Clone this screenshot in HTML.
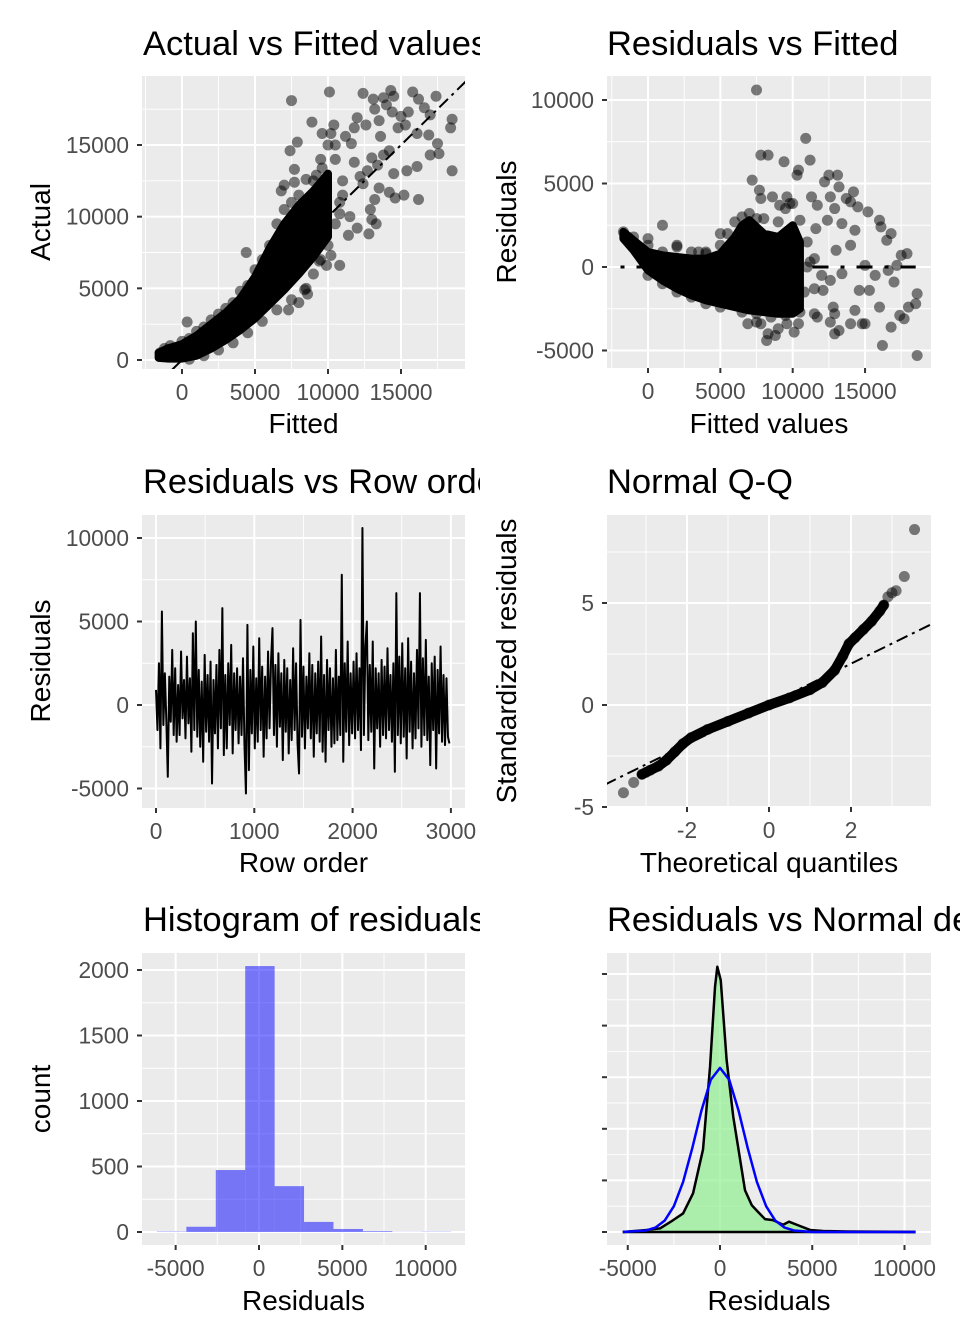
<!DOCTYPE html>
<html><head><meta charset="utf-8">
<style>
html,body{margin:0;padding:0;background:#fff;}
svg{display:block;font-family:"Liberation Sans",Arial,sans-serif;}
</style></head>
<body>
<svg id="chart" width="960" height="1344" viewBox="0 0 960 1344" xmlns="http://www.w3.org/2000/svg">
<defs>
<clipPath id="leftcol"><rect x="0" y="0" width="480" height="1344"/></clipPath>
<clipPath id="c1"><rect x="142" y="76" width="323" height="293"/></clipPath>
<clipPath id="c2"><rect x="607" y="76" width="324" height="292"/></clipPath>
<clipPath id="c3"><rect x="142" y="515" width="323" height="293"/></clipPath>
<clipPath id="c4"><rect x="607" y="515" width="324" height="292"/></clipPath>
<clipPath id="c5"><rect x="142" y="953" width="323" height="292"/></clipPath>
<clipPath id="c6"><rect x="607" y="953" width="324" height="292"/></clipPath>
</defs>
</svg>
<script>
// ---------- DATA ----------
// Panel 1: Actual vs Fitted
const p1BandFitted = [-1600,-1000,0,1000,2000,3000,4000,5000,6000,7000,8000,9000,10000];
const p1BandLow    = [150,100,100,300,800,1400,2100,2900,3900,4900,6000,7200,8600];
const p1BandHigh   = [500,800,1100,1700,2500,3300,4300,5800,7800,9500,10800,11800,13000];
const p1Fitted = [7500,10100,12400,13100,13800,14300,14500,15800,16200,17400,13200,14000,14400,15000,15500,16600,17000,18500,18400,12000,11800,12600,13500,13600,14800,15300,16100,16900,17500,17600,18500,17000,16100,15400,14500,13800,14200,13000,12700,12400,13500,13200,14200,14600,15200,16200,12900,13000,13300,12800,12000,11500,10800,11400,10200,10800,9900,9400,8600,8000,8400,7300,7400,7900,7700,7700,8500,9200,9600,10400,11200,11600,10200,8900,10500,9600,4400,350,7000,6800,8500,9400,11000,12200,11800,13400,
-1500,-1200,-800,0,500,1000,1500,2000,2500,3000,3500,4000,4500,5000,5500,6000,6500,7000,7500,8000,9000,9500,10000,10500,11000,10800,10500,10000,9500,9000,8500,7500,6500,5500,4500,3500,2500,1500,500];
const p1Actual = [18100,18700,18600,18200,18300,18800,18400,18700,18200,18400,17500,17800,17300,17000,17300,17600,17100,16800,16200,16900,16200,16400,16700,15600,16200,16400,15800,15700,15100,14400,13200,14300,13500,13200,13000,14300,14600,14100,13200,12300,12000,11200,11700,11300,11500,11200,10500,9800,9500,8800,9200,10000,10200,8700,7300,6600,6600,6900,4600,4000,4900,3500,14600,15200,13300,12400,12600,12900,15800,16400,15600,15100,15800,16600,15000,13400,7500,2650,12200,11800,8600,9200,11500,12800,13800,13600,
500,800,1000,1300,1500,2000,2300,2800,3200,3600,4000,4800,5200,6300,7000,8000,9500,10500,11000,11500,12500,14000,15000,14000,12500,11000,9500,8000,7000,6000,5000,4200,3500,2700,1900,1200,700,300,50];
const p1XTicks = [0,5000,10000,15000];
const p1YTicks = [0,5000,10000,15000];

// Panel 2: Residuals vs Fitted
const p2BandFitted = [-1700,-1000,0,1000,2000,3000,4000,5000,6000,6500,7000,8000,9000,10000,10500];
const p2BandLow    = [1700,1000,-200,-800,-1300,-1700,-2000,-2200,-2400,-2500,-2600,-2700,-2800,-2800,-2500];
const p2BandHigh   = [2100,1600,900,700,600,500,500,800,1800,2500,2800,2000,1800,2500,1500];
const p2Fitted = [7500,10900,7800,8300,11200,9400,10400,10300,12500,13100,13200,12200,12600,14200,14000,13700,14500,7200,7700,7800,8600,9100,9600,9800,11300,11700,11600,12400,12900,13400,14300,15200,16000,16100,16500,16800,17500,17900,17200,16600,15700,15000,13400,12600,12100,11500,12800,12900,12600,12900,13200,14000,14800,15000,14300,14600,15300,16000,16800,17400,17700,18000,18500,18600,18600,16200,11500,11700,10400,10100,9600,8800,8300,8200,9000,7800,6900,7500,1000,5000,0,2000,3500,4000,17000,14000,13000,11200,
-1700,-1000,0,1000,2000,3000,4000,5000,5500,6000,6500,7000,7500,8000,9000,9500,10000,10500,11000,11000,10800,10500,9500,8500,7500,6500,5000,4000,3000,2000,1000,0,11500,12000];
const p2Resid  = [10600,7700,6700,6700,6400,6300,5800,5500,5500,5500,4800,5100,4200,4500,3900,4100,3600,5200,4600,4100,4200,3700,4200,3800,4200,3700,2300,2800,3500,2600,2200,3300,2800,2400,1600,2000,700,800,100,-200,-500,100,-400,-800,-1400,-1300,-2400,-2800,-3300,-4000,-3800,-3400,-3400,-3400,-2600,-1400,-1400,-2400,-3600,-2900,-3100,-2400,-2200,-1600,-5300,-4700,-2800,-3000,-3400,-3900,-3400,-4100,-4000,-4400,-3700,-3400,-3400,-3300,2500,2000,1700,1300,900,800,-900,1300,1000,300,
2100,1800,1300,900,1200,900,900,1300,2000,2700,3000,3200,2900,2900,2700,3500,3800,2800,1500,0,-1500,-2700,-2900,-3000,-2800,-2700,-2400,-2200,-1800,-1500,-1000,-500,500,-500];
const p2XTicks = [0,5000,10000,15000];
const p2YTicks = [-5000,0,5000,10000];

// Panel 3: Residuals vs Row order (one value every 15 rows)
const p3Step = 15;
const p3Resid = [
900,-1500,2500,-2600,5600,-1200,1900,-900,-4300,1700,-1000,3300,-1800,2200,-2200,1200,-1800,3200,-800,1500,
-2000,2900,-1100,1600,-2800,4300,-1500,5000,-1900,2100,-2500,1400,-3400,3000,-1600,1800,-2200,2600,-4700,1500,
-1700,2400,-2600,3300,-1400,5800,-3000,1800,-2600,2500,-1200,3600,-2900,1900,-1500,2200,-2300,1700,-1800,2800,
-2400,-5300,4800,-3900,2100,-1700,3500,-2600,1600,-2200,4000,-1500,2300,-3100,1700,-2000,3200,-1400,2600,4600,
-1800,2400,-2500,3100,-1300,1900,-3300,2700,-1600,2200,-2900,1500,-2100,3400,-1500,2500,-2300,-4100,5100,-1900,
2300,-2600,1700,-1400,3100,-2000,2400,-3100,1900,-1700,2600,-2200,4100,-2800,1800,-3400,2700,-1500,2200,-2500,
1600,-2300,3300,-2100,1700,-1800,7800,-3400,2500,-1600,3800,-2400,1900,-1700,2600,-2000,3100,-1500,2200,-2700,
10600,-1800,3500,5000,-2100,2400,-1600,3800,-3800,2200,-1400,1900,-2500,2700,-1800,2300,-2000,3400,-1500,1800,
-2200,2500,-4000,6700,-1800,2900,-2300,3700,-1900,2200,-3200,4000,-1600,2600,-2600,1900,-2000,3300,-1400,6700,
-2500,2800,-1800,3900,-2100,1700,-3600,2500,-1500,2900,-3800,2100,-1700,3500,-2200,1800,-2400,1600,-1900,-2300];
const p3XTicks = [0,1000,2000,3000];
const p3YTicks = [-5000,0,5000,10000];

// Panel 4: Normal Q-Q
const p4Theo   = [-3.55,-3.3,-3.1,-3.0,-2.9,-2.7,-2.5,-2.3,-2.1,-1.9,-1.5,-1.0,-0.5,0,0.5,1.0,1.3,1.6,1.8,1.95,2.1,2.3,2.5,2.7,2.8,2.9,3.0,3.1,3.3,3.55];
const p4Sample = [-4.3,-3.8,-3.4,-3.3,-3.2,-3.0,-2.7,-2.3,-1.9,-1.6,-1.2,-0.8,-0.4,0,0.35,0.75,1.1,1.7,2.4,3.0,3.3,3.7,4.1,4.6,4.9,5.3,5.5,5.6,6.3,8.6];
const p4XTicks = [-2,0,2];
const p4YTicks = [-5,0,5];

// Panel 5: Histogram of residuals
const p5BinCenters = [-5240,-3475,-1710,55,1820,3585,5350,7115,8880,10645];
const p5Counts     = [3,40,473,2030,350,77,23,6,1,2];
const p5BinWidth = 1765;
const p5XTicks = [-5000,0,5000,10000];
const p5YTicks = [0,500,1000,1500,2000];

// Panel 6: Residual density vs normal density (density x 1e-4)
const p6DensX = [-5270,-3970,-3250,-2540,-2000,-1460,-920,-540,-270,-145,40,360,720,980,1355,1720,2060,2440,2870,3420,3740,4160,4880,5590,6870,10600];
const p6DensY = [0,0.04,0.07,0.23,0.36,0.75,1.6,3.2,4.75,5.14,4.88,3.33,2.23,1.65,0.81,0.52,0.39,0.25,0.23,0.14,0.2,0.14,0.04,0.02,0.01,0];
const p6NormX = [-5270,-4000,-3500,-3000,-2500,-2000,-1500,-1000,-500,0,500,1000,1500,2000,2500,3000,3500,4000,5000,10600];
const p6NormY = [0,0.03,0.085,0.22,0.5,0.97,1.63,2.36,2.95,3.18,2.95,2.36,1.63,0.97,0.5,0.22,0.085,0.03,0,0];
const p6XTicks = [-5000,0,5000,10000];
const p6YTicks = [0,1,2,3,4,5];

// ---------- RENDER ----------
const NS = "http://www.w3.org/2000/svg";
const svg = document.getElementById('chart');
function mk(tag, attrs, parent){
  const e = document.createElementNS(NS, tag);
  for (const k in attrs) e.setAttribute(k, attrs[k]);
  (parent||svg).appendChild(e);
  return e;
}
const panels = {
  p1:{x0:142,x1:465,y0:76,y1:369, sx:v=>182+v*0.0146, sy:v=>360-v*0.014333, clip:'c1'},
  p2:{x0:607,x1:931,y0:76,y1:368, sx:v=>648+v*0.01447, sy:v=>267-v*0.0167, clip:'c2'},
  p3:{x0:142,x1:465,y0:515,y1:808, sx:v=>156+v*0.0983, sy:v=>705-v*0.0167, clip:'c3'},
  p4:{x0:607,x1:931,y0:515,y1:807, sx:v=>769+v*41, sy:v=>705-v*20.4, clip:'c4'},
  p5:{x0:142,x1:465,y0:953,y1:1245, sx:v=>259+v*0.01667, sy:v=>1232-v*0.131, clip:'c5'},
  p6:{x0:607,x1:931,y0:953,y1:1245, sx:v=>720+v*0.01845, sy:v=>1232-v*51.6, clip:'c6'}
};
function mids(t){const r=[];const d=t[1]-t[0];r.push(t[0]-d/2);for(let i=0;i<t.length;i++)r.push(t[i]+d/2);return r;}
function panel(p, name, xt, yt, labelsY){
  const g = mk('g',{});
  
  
  const bg = mk('rect',{x:p.x0,y:p.y0,width:p.x1-p.x0,height:p.y1-p.y0,fill:'#EBEBEB'},g);
  
  
  const gg = mk('g',{stroke:'#fff'},g);
  
  
  mids(xt).forEach(v=>{const x=p.sx(v); if(x>p.x0&&x<p.x1) mk('line',{x1:x,x2:x,y1:p.y0,y2:p.y1,'stroke-width':0.9},gg);});
  mids(yt).forEach(v=>{const y=p.sy(v); if(y>p.y0&&y<p.y1) mk('line',{x1:p.x0,x2:p.x1,y1:y,y2:y,'stroke-width':0.9},gg);});
  xt.forEach(v=>{const x=p.sx(v); mk('line',{x1:x,x2:x,y1:p.y0,y2:p.y1,'stroke-width':2},gg);});
  yt.forEach(v=>{const y=p.sy(v); mk('line',{x1:p.x0,x2:p.x1,y1:y,y2:y,'stroke-width':2},gg);});
  const ax = mk('g',{},g);
  
  
  xt.forEach(v=>{const x=p.sx(v);
    mk('line',{x1:x,x2:x,y1:p.y1,y2:p.y1+5,stroke:'#333','stroke-width':2},ax);
    const t=mk('text',{x:x,y:p.y1+31,'text-anchor':'middle','font-size':22.7,fill:'#4D4D4D'},ax);
    
    
    t.textContent=v;});
  yt.forEach(v=>{const y=p.sy(v);
    mk('line',{x1:p.x0-5,x2:p.x0,y1:y,y2:y,stroke:'#333','stroke-width':2},ax);
    if(labelsY){const t=mk('text',{x:p.x0-13,y:y+8,'text-anchor':'end','font-size':22.7,fill:'#4D4D4D'},ax);
      
      
      t.textContent=v;}});
  const plot = mk('g',{'clip-path':'url(#'+p.clip+')'},g);
  
  
  return plot;
}
function labels(title, xlab, ylab, tx, ty, cx, xb, ylx, lcol){
  const t = mk('text',{x:tx,y:ty,'font-size':34.5,fill:'#000'});
  if(lcol) t.setAttribute('clip-path','url(#leftcol)');
  
  
  t.textContent = title;
  const xl = mk('text',{x:cx,y:xb,'font-size':28,'text-anchor':'middle',fill:'#000'});
  
  
  xl.textContent = xlab;
  if(ylab){
    const yl = mk('text',{transform:'translate('+ylx[0]+','+ylx[1]+') rotate(-90)','font-size':28,'text-anchor':'middle',fill:'#000'});
    
    
    yl.textContent = ylab;
  }
}
function band(p, g, xs, lo, hi, name){
  let d='M';
  xs.forEach((x,i)=>{d+=p.sx(x)+','+p.sy(hi[i])+' L';});
  for(let i=xs.length-1;i>=0;i--){d+=p.sx(xs[i])+','+p.sy(lo[i])+(i>0?' L':' Z');}
  const e = mk('path',{d:d,fill:'#000',stroke:'#000','stroke-width':8,'stroke-linejoin':'round'},g);
  
  
}
function points(p, g, xs, ys, name, r){
  xs.forEach((x,i)=>{
    const c = mk('circle',{cx:p.sx(x),cy:p.sy(ys[i]),r:r||5.5,fill:'#000','fill-opacity':0.5},g);
    
    
  });
}

// Panel 1
let P = panels.p1;
let g = panel(P,'actual-vs-fitted',p1XTicks,p1YTicks,true);
band(P,g,p1BandFitted,p1BandLow,p1BandHigh,'dense-point-cloud');
points(P,g,p1Fitted,p1Actual,'scatter-point');
let ref = mk('line',{x1:P.sx(-700),y1:P.sy(-700),x2:P.sx(20000),y2:P.sy(20000),stroke:'#000','stroke-width':2,'stroke-dasharray':'12 5 3 5'},g);


labels('Actual vs Fitted values','Fitted','Actual',143,55,303.5,433,[50,222],true);

// Panel 2
P = panels.p2;
g = panel(P,'residuals-vs-fitted',p2XTicks,p2YTicks,true);
band(P,g,p2BandFitted,p2BandLow,p2BandHigh,'dense-point-cloud');
points(P,g,p2Fitted,p2Resid,'scatter-point');
ref = mk('line',{x1:P.sx(-1900),y1:P.sy(0),x2:P.sx(18500),y2:P.sy(0),stroke:'#000','stroke-width':3,'stroke-dasharray':'4 12 16 12'},g);


labels('Residuals vs Fitted','Fitted values','Residuals',607,55,769,433,[516,222],false);

// Panel 3
P = panels.p3;
g = panel(P,'residuals-vs-row',p3XTicks,p3YTicks,true);
let pts = p3Resid.map((v,i)=>P.sx(i*p3Step)+','+P.sy(v)).join(' ');
let pl = mk('polyline',{points:pts,fill:'none',stroke:'#000','stroke-width':2,'stroke-linejoin':'round'},g);


labels('Residuals vs Row order','Row order','Residuals',143,493,303.5,872,[50,661],true);

// Panel 4
P = panels.p4;
g = panel(P,'normal-qq',p4XTicks,p4YTicks,true);
pts = p4Theo.slice(2,25).map((v,i)=>P.sx(v)+','+P.sy(p4Sample[i+2])).join(' ');
pl = mk('polyline',{points:pts,fill:'none',stroke:'#000','stroke-width':10,'stroke-linejoin':'round','stroke-linecap':'round'},g);


points(P,g,p4Theo,p4Sample,'qq-point');
ref = mk('line',{x1:P.sx(-4),y1:P.sy(-3.9),x2:P.sx(4),y2:P.sy(4.0),stroke:'#000','stroke-width':2,'stroke-dasharray':'12 5 3 5'},g);


labels('Normal Q-Q','Theoretical quantiles','Standardized residuals',607,493,769,872,[516,661],false);

// Panel 5
P = panels.p5;
g = panel(P,'histogram',p5XTicks,p5YTicks,true);
p5BinCenters.forEach((c,i)=>{
  const x0=P.sx(c-p5BinWidth/2), x1=P.sx(c+p5BinWidth/2), y=P.sy(p5Counts[i]);
  const r = mk('rect',{x:x0,y:y,width:x1-x0,height:P.sy(0)-y,fill:'#0000FF','fill-opacity':0.5},g);
  
  
});
labels('Histogram of residuals','Residuals','count',143,931,303.5,1310,[50,1099],true);

// Panel 6
P = panels.p6;
g = panel(P,'density',p6XTicks,p6YTicks,false);
let dd = 'M'+P.sx(p6DensX[0])+','+P.sy(0)+' '+p6DensX.map((x,i)=>'L'+P.sx(x)+','+P.sy(p6DensY[i])).join(' ')+' L'+P.sx(p6DensX[p6DensX.length-1])+','+P.sy(0)+' Z';
let ar = mk('path',{d:dd,fill:'#90EE90','fill-opacity':0.7,stroke:'none'},g);


let bl = mk('line',{x1:P.sx(p6DensX[0]),x2:P.sx(p6DensX[p6DensX.length-1]),y1:P.sy(0),y2:P.sy(0),stroke:'#000','stroke-width':2.5},g);


pl = mk('polyline',{points:p6DensX.map((x,i)=>P.sx(x)+','+P.sy(p6DensY[i])).join(' '),fill:'none',stroke:'#000','stroke-width':2.5,'stroke-linejoin':'round'},g);


pl = mk('polyline',{points:p6NormX.map((x,i)=>P.sx(x)+','+P.sy(p6NormY[i])).join(' '),fill:'none',stroke:'#0000FF','stroke-width':2.5,'stroke-linejoin':'round'},g);


labels('Residuals vs Normal density','Residuals',null,607,931,769,1310,null,false);
</script>
</body></html>
